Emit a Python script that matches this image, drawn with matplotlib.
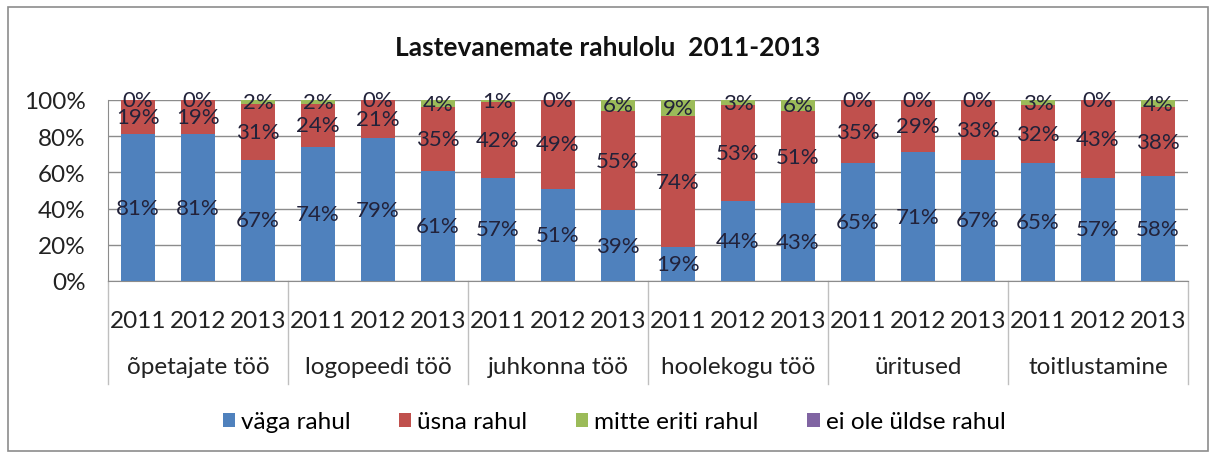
import matplotlib.pyplot as plt
import matplotlib.patches as mpatches
import numpy as np

plt.rcParams['font.family'] = ['Lato', 'DejaVu Sans']

#### data
groups = ["õpetajate töö", "logopeedi töö", "juhkonna töö",
          "hoolekogu töö", "üritused", "toitlustamine"]
years = ["2011", "2012", "2013"]
series_names = ["väga rahul", "üsna rahul", "mitte eriti rahul", "ei ole üldse rahul"]

vaga = [81, 81, 67, 74, 79, 61, 57, 51, 39, 19, 44, 43, 65, 71, 67, 65, 57, 58]
usna = [19, 19, 31, 24, 21, 35, 42, 49, 55, 74, 53, 51, 35, 29, 33, 32, 43, 38]
mitte = [0, 0, 2, 2, 0, 4, 1, 0, 6, 9, 3, 6, 0, 0, 0, 3, 0, 4]
ei_ole = [0] * 18

color_list = ["#4F81BD", "#C0504D", "#9BBB59", "#8064A2"]

data = np.array([vaga, usna, mitte, ei_ole], dtype=float)
share = data / data.sum(axis=0) * 100   # 100% stacked

fs = 17.5
fig = plt.figure(figsize=(12.16, 4.6), dpi=100)
# outer chart border
fig.patches.append(mpatches.Rectangle((8/1216, 8/460), 1200/1216, 444/460,
                                      transform=fig.transFigure, fill=False,
                                      edgecolor="#8c8c8c", linewidth=1.2))
main = fig.add_axes([108/1216, 1-282/460, 1080/1216, 181/460])

x = np.arange(len(vaga))
bottom = np.zeros(len(vaga))
bars = []
for i in range(4):
    b = main.bar(x, share[i], 0.57, bottom=bottom, color=color_list[i],
                 label=series_names[i], zorder=3)
    bars.append(b)
    if i < 3:
        for j in range(len(x)):
            main.text(x[j], bottom[j] + share[i][j] / 2, f"{int(data[i][j])}%",
                      ha="center", va="center", fontsize=16,
                      color="#22223a", zorder=5)
    bottom = bottom + share[i]

main.set_xlim(-0.5, len(x) - 0.5)
main.set_ylim(0, 100)
main.set_yticks(range(0, 101, 20))
main.set_yticklabels([f"{v}%" for v in range(0, 101, 20)], fontsize=fs,
                     color="#222222")
main.yaxis.grid(True, color="#8c8c8c", linewidth=1, zorder=0)
main.tick_params(axis="y", length=0, pad=16)
main.tick_params(axis="x", length=0, pad=21)
main.set_xticks(x)
main.set_xticklabels(years * len(groups), fontsize=fs, color="#222222")
for s in ["top", "right"]:
    main.spines[s].set_visible(False)
main.spines["left"].set_color("#8c8c8c")
main.spines["bottom"].set_color("#8c8c8c")

# group separators and group labels
for k in range(len(groups) + 1):
    main.plot([k * 3 - 0.5, k * 3 - 0.5], [0, -0.57], color="#bfbfbf",
              linewidth=1, transform=main.get_xaxis_transform(), clip_on=False)
for k, g in enumerate(groups):
    main.text(k * 3 + 1, -0.475, g, ha="center", va="center", fontsize=fs,
              color="#222222", transform=main.get_xaxis_transform())

fig.text(0.5, 1 - 48/460, "Lastevanemate rahulolu  2011-2013", ha="center",
         va="center", fontsize=19, fontweight="bold", color="#111111")

fig.legend(handles=bars, labels=series_names, loc="center",
           bbox_to_anchor=(0.505, 1 - 423/460), ncol=4, frameon=False,
           fontsize=fs, handlelength=0.5, handleheight=0.5,
           handletextpad=0.25, columnspacing=2.0)

plt.savefig("out.png", dpi=100)
